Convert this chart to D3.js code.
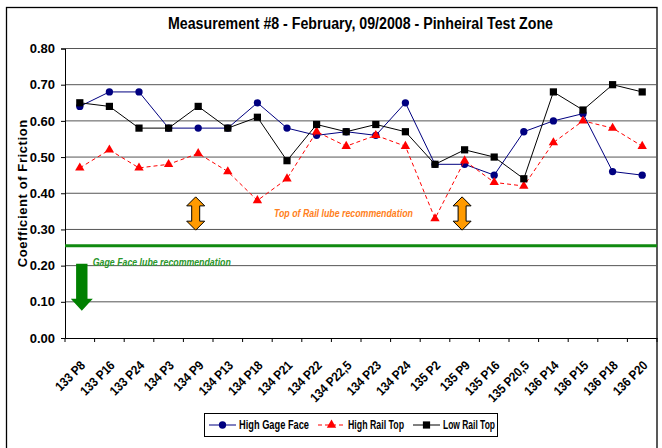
<!DOCTYPE html>
<html>
<head>
<meta charset="utf-8">
<script src="https://cdn.jsdelivr.net/npm/d3@7"></script>
<style>
  body { margin: 0; background: #fff; }
  svg { display: block; }
  text { font-family: "Liberation Sans", Arial, sans-serif; font-weight: bold; }
</style>
</head>
<body>
<div id="wrapper"></div>
<script>
// categories (measurement points)
const categories = ["133 P8", "133 P16", "133 P24", "134 P3", "134 P9", "134 P13", "134 P18", "134 P21",
    "134 P22", "134 P22,5", "134 P23", "134 P24", "135 P2", "135 P9", "135 P16", "135 P20,5",
    "136 P14", "136 P15", "136 P18", "136 P20"]

// series values
const highGageFace = [0.64, 0.68, 0.68, 0.58, 0.58, 0.58, 0.65, 0.58, 0.56, 0.57,
    0.56, 0.65, 0.48, 0.48, 0.45, 0.57, 0.60, 0.62, 0.46, 0.45]
const highRailTop = [0.47, 0.52, 0.47, 0.48, 0.51, 0.46, 0.38, 0.44, 0.57, 0.53,
    0.56, 0.53, 0.33, 0.49, 0.43, 0.42, 0.54, 0.60, 0.58, 0.53]
const lowRailTop = [0.65, 0.64, 0.58, 0.58, 0.64, 0.58, 0.61, 0.49, 0.59, 0.57,
    0.59, 0.57, 0.48, 0.52, 0.50, 0.44, 0.68, 0.63, 0.70, 0.68]

const seriesNames = ["High Gage Face", "High Rail Top", "Low Rail Top"]
const yTicks = [0, 0.1, 0.2, 0.3, 0.4, 0.5, 0.6, 0.7, 0.8]

// annotations
const gageFaceLimit = 0.255
const gageArrow = { cat: "133 P8", from: 0.205, to: 0.075 }
const railArrows = [{ cat: "134 P9", from: 0.39, to: 0.298 }, { cat: "135 P9", from: 0.39, to: 0.298 }]
const railText = { cat: "134 P18", value: 0.334, label: "Top of Rail lube recommendation" }
const gageText = { cat: "133 P8", value: 0.198, label: "Gage Face lube recommendation" }

const width = 662
const height = 448
const margin = { top: 48.5, right: 5, bottom: 110, left: 65 }

const svg = d3.select("#wrapper")
    .append("svg")
    .attr("width", width)
    .attr("height", height)

// outer frame
svg.append("rect")
    .attr("x", 6.5).attr("y", 7.5)
    .attr("width", 650.5).attr("height", 450)
    .attr("fill", "none")
    .attr("stroke", "#000")
    .attr("stroke-width", 1.3)

const xScale = d3.scaleBand()
    .domain(categories)
    .range([margin.left, width - margin.right])
    .padding(0)

const yScale = d3.scaleLinear()
    .domain([0, 0.8])
    .range([height - margin.bottom, margin.top])

const cx = c => xScale(c) + xScale.bandwidth() / 2

// title (condensed with textLength to mimic the narrow face)
svg.append("text")
    .attr("x", 168)
    .attr("y", 29)
    .attr("textLength", 385)
    .attr("lengthAdjust", "spacingAndGlyphs")
    .style("font-size", "16px")
    .text("Measurement #8 - February, 09/2008 - Pinheiral Test Zone")

// gridlines
svg.append("g")
    .selectAll("line")
    .data(yTicks.slice(1))
    .join("line")
    .attr("x1", margin.left)
    .attr("x2", width - margin.right)
    .attr("y1", d => yScale(d))
    .attr("y2", d => yScale(d))
    .attr("stroke", "#555")
    .attr("stroke-width", 1)

// y axis
const yAxis = d3.axisLeft(yScale)
    .tickValues(yTicks)
    .tickFormat(d3.format(".2f"))
    .tickSize(4)
    .tickPadding(6)
svg.append("g")
    .attr("transform", `translate(${margin.left},0)`)
    .call(yAxis)
    .call(g => g.select(".domain").attr("stroke", "#000"))
    .call(g => g.selectAll("text")
        .style("font-family", "'Liberation Sans', Arial, sans-serif")
        .style("font-weight", "bold")
        .style("font-size", "13px")
        .attr("fill", "#000"))

// x axis
const xAxis = d3.axisBottom(xScale).tickSize(0).tickFormat("")
const xg = svg.append("g")
    .attr("transform", `translate(0,${yScale(0)})`)
    .call(xAxis)
xg.select(".domain").attr("stroke", "#000")
xg.selectAll(".bound")
    .data(d3.range(categories.length + 1))
    .join("line")
    .attr("x1", i => margin.left + i * xScale.bandwidth())
    .attr("x2", i => margin.left + i * xScale.bandwidth())
    .attr("y1", 0).attr("y2", 4)
    .attr("stroke", "#000")

svg.append("g")
    .selectAll("text")
    .data(categories)
    .join("text")
    .style("font-size", "13px")
    .attr("text-anchor", "end")
    .attr("transform", d => `translate(${cx(d) + 3},${yScale(0) + 25}) rotate(-45) scale(0.88,1)`)
    .attr("dy", "0.35em")
    .text(d => d)

// y axis title
svg.append("text")
    .attr("transform", `translate(27,${yScale(0.4)}) rotate(-90)`)
    .attr("text-anchor", "middle")
    .style("font-size", "13px")
    .style("letter-spacing", "0.6px")
    .text("Coefficient of Friction")

// gage face limit line
svg.append("line")
    .attr("x1", margin.left)
    .attr("x2", width - margin.right)
    .attr("y1", yScale(gageFaceLimit))
    .attr("y2", yScale(gageFaceLimit))
    .attr("stroke", "#108a10")
    .attr("stroke-width", 3)

// annotation texts
svg.append("text")
    .attr("x", cx(gageText.cat) + 13)
    .attr("y", yScale(gageText.value))
    .attr("textLength", 138)
    .attr("lengthAdjust", "spacingAndGlyphs")
    .attr("fill", "#2a962a")
    .style("font-style", "italic")
    .style("font-size", "10px")
    .text(gageText.label)

svg.append("text")
    .attr("x", cx(railText.cat) + 16.5)
    .attr("y", yScale(railText.value))
    .attr("textLength", 139)
    .attr("lengthAdjust", "spacingAndGlyphs")
    .attr("fill", "#ff8020")
    .style("font-style", "italic")
    .style("font-size", "10px")
    .text(railText.label)

// double arrows (orange)
const doubleArrow = (x, y1, y2) => {
    const h = 9, w = 9, s = 4
    return `M${x},${y1} L${x + w},${y1 + h} L${x + s},${y1 + h} L${x + s},${y2 - h} L${x + w},${y2 - h}
        L${x},${y2} L${x - w},${y2 - h} L${x - s},${y2 - h} L${x - s},${y1 + h} L${x - w},${y1 + h} Z`
}
svg.append("g")
    .selectAll("path")
    .data(railArrows)
    .join("path")
    .attr("d", d => doubleArrow(cx(d.cat) - 2.5, yScale(d.from), yScale(d.to)))
    .attr("fill", "#ff9a00")
    .attr("stroke", "#000")
    .attr("stroke-width", 1)

// down arrow (green)
const downArrow = (x, y1, y2) => {
    const h = 12, w = 11, s = 5.7
    return `M${x - s},${y1} L${x + s},${y1} L${x + s},${y2 - h} L${x + w},${y2 - h} L${x},${y2}
        L${x - w},${y2 - h} L${x - s},${y2 - h} Z`
}
svg.append("path")
    .attr("d", downArrow(cx(gageArrow.cat) + 2, yScale(gageArrow.from), yScale(gageArrow.to)))
    .attr("fill", "#008000")

// series
const series = [
    { name: seriesNames[0], values: highGageFace, color: "#000080", dash: null, symbol: d3.symbolCircle, size: 42 },
    { name: seriesNames[1], values: highRailTop, color: "#ff0000", dash: "4,3", symbol: d3.symbolTriangle, size: 38 },
    { name: seriesNames[2], values: lowRailTop, color: "#000000", dash: null, symbol: d3.symbolSquare, size: 52 }
]

const line = d3.line()
    .x((d, i) => cx(categories[i]))
    .y(d => yScale(d))

series.forEach(s => {
    svg.append("path")
        .datum(s.values)
        .attr("d", line)
        .attr("fill", "none")
        .attr("stroke", s.color)
        .attr("stroke-width", 1)
        .attr("stroke-dasharray", s.dash)
    svg.append("g")
        .selectAll("path")
        .data(s.values)
        .join("path")
        .attr("transform", (d, i) => `translate(${cx(categories[i])},${yScale(d)})`)
        .attr("d", d3.symbol(s.symbol, s.size))
        .attr("fill", s.color)
})

// legend
const legend = svg.append("g")
legend.append("rect")
    .attr("x", 204.5).attr("y", 413.5)
    .attr("width", 293).attr("height", 23)
    .attr("fill", "#fff")
    .attr("stroke", "#000")
    .attr("stroke-width", 1)

const legendX = [209, 318, 413]
const legendTextLen = [70, 56, 52]
series.forEach((s, i) => {
    const x0 = legendX[i]
    legend.append("line")
        .attr("x1", x0).attr("x2", x0 + 27)
        .attr("y1", 425).attr("y2", 425)
        .attr("stroke", s.color)
        .attr("stroke-dasharray", s.dash)
    legend.append("path")
        .attr("transform", `translate(${x0 + 13.5},425)`)
        .attr("d", d3.symbol(s.symbol, s.size))
        .attr("fill", s.color)
    legend.append("text")
        .attr("x", x0 + 30)
        .attr("y", 425)
        .attr("dy", "0.35em")
        .attr("textLength", legendTextLen[i])
        .attr("lengthAdjust", "spacingAndGlyphs")
        .style("font-size", "12px")
        .text(s.name)
})
</script>
</body>
</html>
